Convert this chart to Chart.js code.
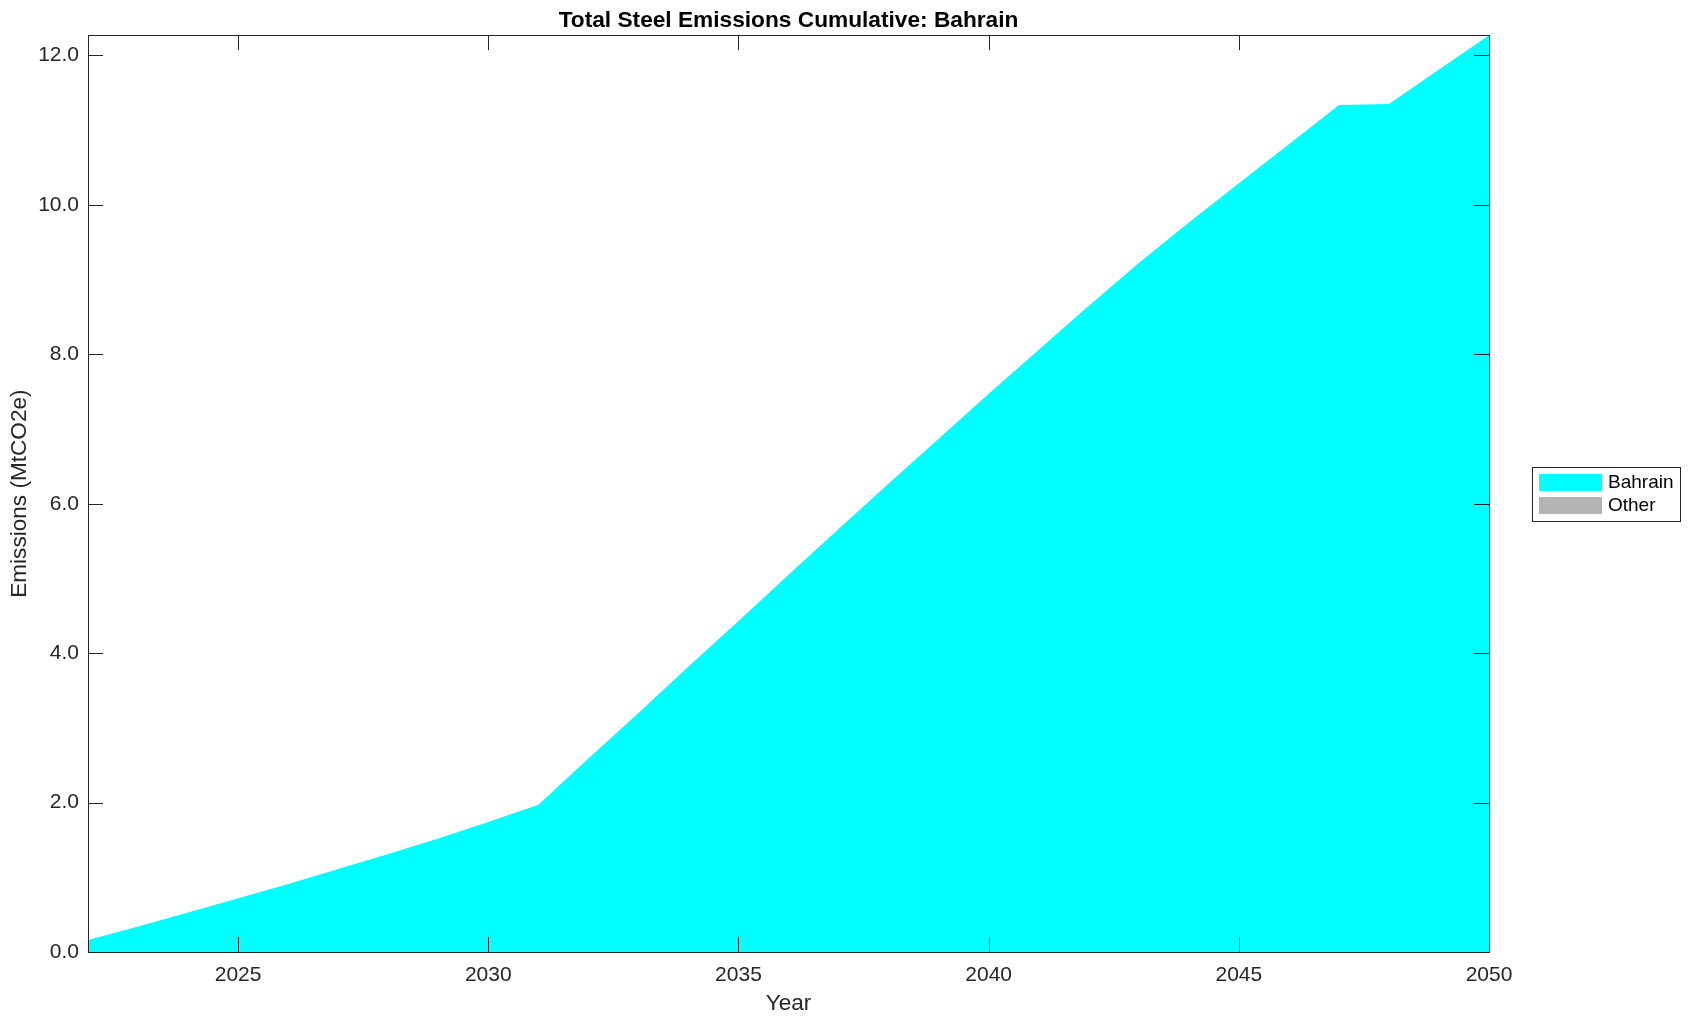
<!DOCTYPE html>
<html>
<head>
<meta charset="utf-8">
<title>Total Steel Emissions Cumulative: Bahrain</title>
<script src="https://cdn.jsdelivr.net/npm/chart.js@4/dist/chart.umd.min.js"></script>
<style>
  body { margin: 0; background: #fff; }
  canvas { display: block; }
</style>
</head>
<body>
<canvas id="emChart" width="1691" height="1021"></canvas>
<script>
const years = [2022, 2023, 2024, 2025, 2026, 2027, 2028, 2029, 2030, 2031,
  2032, 2033, 2034, 2035, 2036, 2037, 2038, 2039, 2040, 2041,
  2042, 2043, 2044, 2045, 2046, 2047, 2048, 2049, 2050];
const bahrain = [0.16, 0.34, 0.53, 0.72, 0.91, 1.11, 1.31, 1.52, 1.74, 1.97,
  2.59, 3.20, 3.82, 4.43, 5.05, 5.66, 6.27, 6.87, 7.47, 8.06,
  8.65, 9.22, 9.765, 10.29, 10.81, 11.335, 11.35, 11.81, 12.27];
const other = years.map(() => 0);
const xTicks = [2025, 2030, 2035, 2040, 2045, 2050];
const yTicks = [0, 2, 4, 6, 8, 10, 12];

const FONT = '"Liberation Sans", Arial, Helvetica, sans-serif';
const INK = '#262626';
const yMax = Math.max(...bahrain.map((v, i) => v + other[i]));

// MATLAB style box + inward ticks + boxed legend on the right
const boxPlugin = {
  id: 'boxPlugin',
  afterDraw(chart) {
    const { ctx, chartArea: a, scales } = chart;
    ctx.save();
    ctx.strokeStyle = INK;
    ctx.lineWidth = 1;
    ctx.beginPath();
    xTicks.forEach(t => {
      const x = Math.round(scales.x.getPixelForValue(t)) + 0.5;
      ctx.moveTo(x, a.bottom); ctx.lineTo(x, a.bottom - 15);
      ctx.moveTo(x, a.top); ctx.lineTo(x, a.top + 15);
    });
    yTicks.forEach(t => {
      const y = Math.round(scales.y.getPixelForValue(t)) + 0.5;
      ctx.moveTo(a.left, y); ctx.lineTo(a.left + 15, y);
      ctx.moveTo(a.right, y); ctx.lineTo(a.right - 15, y);
    });
    ctx.stroke();
    ctx.strokeRect(Math.round(a.left) + 0.5, Math.round(a.top) + 0.5,
      Math.round(a.right - a.left), Math.round(a.bottom - a.top));

    // legend
    const lx = Math.round(a.right) + 43;
    const ly = Math.round((a.top + a.bottom) / 2) - 27;
    ctx.fillStyle = '#fff';
    ctx.fillRect(lx, ly, 148, 54);
    ctx.strokeRect(lx + 0.5, ly + 0.5, 148, 54);
    ctx.font = '19px ' + FONT;
    ctx.textBaseline = 'middle';
    chart.data.datasets.forEach((ds, i) => {
      const rowY = ly + 15 + i * 23;
      ctx.fillStyle = ds.backgroundColor;
      ctx.fillRect(lx + 7, rowY - 8, 63, 17);
      ctx.fillStyle = '#000';
      ctx.fillText(ds.label, lx + 76, rowY + 1);
    });
    ctx.restore();
  }
};

new Chart(document.getElementById('emChart'), {
  type: 'line',
  data: {
    datasets: [{
      label: 'Bahrain',
      data: years.map((y, i) => ({ x: y, y: bahrain[i] })),
      backgroundColor: '#00ffff',
      borderWidth: 0,
      pointRadius: 0,
      fill: 'origin'
    }, {
      label: 'Other',
      data: years.map((y, i) => ({ x: y, y: other[i] })),
      backgroundColor: '#b3b3b3',
      borderWidth: 0,
      pointRadius: 0,
      fill: '-1'
    }]
  },
  options: {
    responsive: false,
    animation: false,
    layout: { padding: { left: 0, right: 202, top: 0, bottom: 0 } },
    plugins: {
      legend: { display: false },
      tooltip: { enabled: false },
      title: {
        display: true,
        fullSize: false,
        text: 'Total Steel Emissions Cumulative: Bahrain',
        color: '#000',
        font: { family: FONT, size: 22.7, weight: 'bold', lineHeight: 1.2 },
        padding: { top: 7, bottom: 1 }
      }
    },
    scales: {
      x: {
        type: 'linear',
        min: 2022,
        max: 2050,
        grid: { display: false, drawTicks: false },
        border: { display: false },
        afterBuildTicks: s => { s.ticks = xTicks.map(v => ({ value: v })); },
        afterFit: s => { s.height = 69; },
        ticks: {
          color: INK,
          padding: 11,
          maxRotation: 0,
          font: { family: FONT, size: 21 },
          callback: v => String(v)
        },
        title: {
          display: true,
          text: 'Year',
          color: INK,
          font: { family: FONT, size: 22.6 },
          padding: { top: 0, bottom: 4 }
        }
      },
      y: {
        stacked: true,
        min: 0,
        max: yMax,
        grid: { display: false, drawTicks: false },
        border: { display: false },
        afterBuildTicks: s => { s.ticks = yTicks.map(v => ({ value: v })); },
        afterFit: s => { s.width = 88; },
        ticks: {
          color: INK,
          padding: 9,
          font: { family: FONT, size: 21 },
          callback: v => Number(v).toFixed(1)
        },
        title: {
          display: true,
          text: 'Emissions (MtCO2e)',
          color: INK,
          font: { family: FONT, size: 22.6 },
          padding: { top: 6, bottom: 0 }
        }
      }
    }
  },
  plugins: [boxPlugin]
});
</script>
</body>
</html>
